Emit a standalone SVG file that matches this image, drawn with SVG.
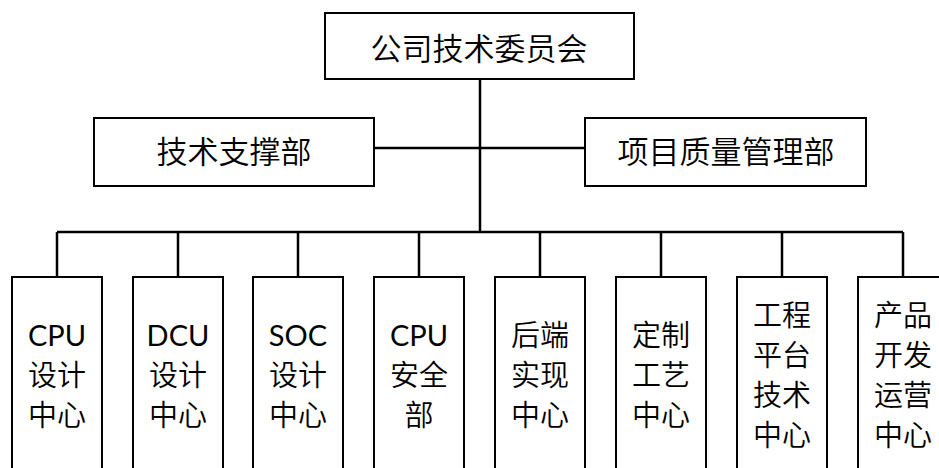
<svg xmlns="http://www.w3.org/2000/svg" width="939" height="468" viewBox="0 0 939 468">
<style>
.box{fill:#fff;stroke:#000;stroke-width:2}
.ln{fill:none;stroke:#000;stroke-width:2.5}
.t{font-family:"Lato","Noto Sans CJK SC",sans-serif;font-weight:350;fill:#000;text-anchor:middle}
.la{font-weight:400}
.big{font-size:31px}
.sm{font-size:29px}
</style>
<rect width="939" height="468" fill="#fff"/>
<g id="connectors">
<path class="ln" d="M480 79V232M374 148H585M57 232H903M57 232V277M178 232V277M298 232V277M419 232V277M540 232V277M661 232V277M782 232V277M903 232V277"/>
</g>
<g id="n-top"><rect class="box" x="325" y="13" width="309" height="66"/><text class="t big" x="479" y="60">公司技术委员会</text></g>
<g id="n-support"><rect class="box" x="94" y="118" width="280" height="68"/><text class="t big" x="234" y="163">技术支撑部</text></g>
<g id="n-quality"><rect class="box" x="585" y="118" width="281" height="68"/><text class="t big" x="726" y="163">项目质量管理部</text></g>
<g id="n1"><rect class="box" x="12" y="277" width="90" height="202"/><text class="t sm"><tspan class="la" x="57" y="346">CPU</tspan><tspan x="57" y="386">设计</tspan><tspan x="57" y="426">中心</tspan></text></g>
<g id="n2"><rect class="box" x="133" y="277" width="90" height="202"/><text class="t sm"><tspan class="la" x="178" y="346">DCU</tspan><tspan x="178" y="386">设计</tspan><tspan x="178" y="426">中心</tspan></text></g>
<g id="n3"><rect class="box" x="253" y="277" width="90" height="202"/><text class="t sm"><tspan class="la" x="298" y="346">SOC</tspan><tspan x="298" y="386">设计</tspan><tspan x="298" y="426">中心</tspan></text></g>
<g id="n4"><rect class="box" x="374" y="277" width="90" height="202"/><text class="t sm"><tspan class="la" x="419" y="346">CPU</tspan><tspan x="419" y="386">安全</tspan><tspan x="419" y="426">部</tspan></text></g>
<g id="n5"><rect class="box" x="495" y="277" width="90" height="202"/><text class="t sm"><tspan x="540" y="346">后端</tspan><tspan x="540" y="386">实现</tspan><tspan x="540" y="426">中心</tspan></text></g>
<g id="n6"><rect class="box" x="616" y="277" width="90" height="202"/><text class="t sm"><tspan x="661" y="346">定制</tspan><tspan x="661" y="386">工艺</tspan><tspan x="661" y="426">中心</tspan></text></g>
<g id="n7"><rect class="box" x="737" y="277" width="90" height="202"/><text class="t sm"><tspan x="782" y="326">工程</tspan><tspan x="782" y="366">平台</tspan><tspan x="782" y="406">技术</tspan><tspan x="782" y="446">中心</tspan></text></g>
<g id="n8"><rect class="box" x="858" y="277" width="90" height="202"/><text class="t sm"><tspan x="903" y="326">产品</tspan><tspan x="903" y="366">开发</tspan><tspan x="903" y="406">运营</tspan><tspan x="903" y="446">中心</tspan></text></g>
</svg>
